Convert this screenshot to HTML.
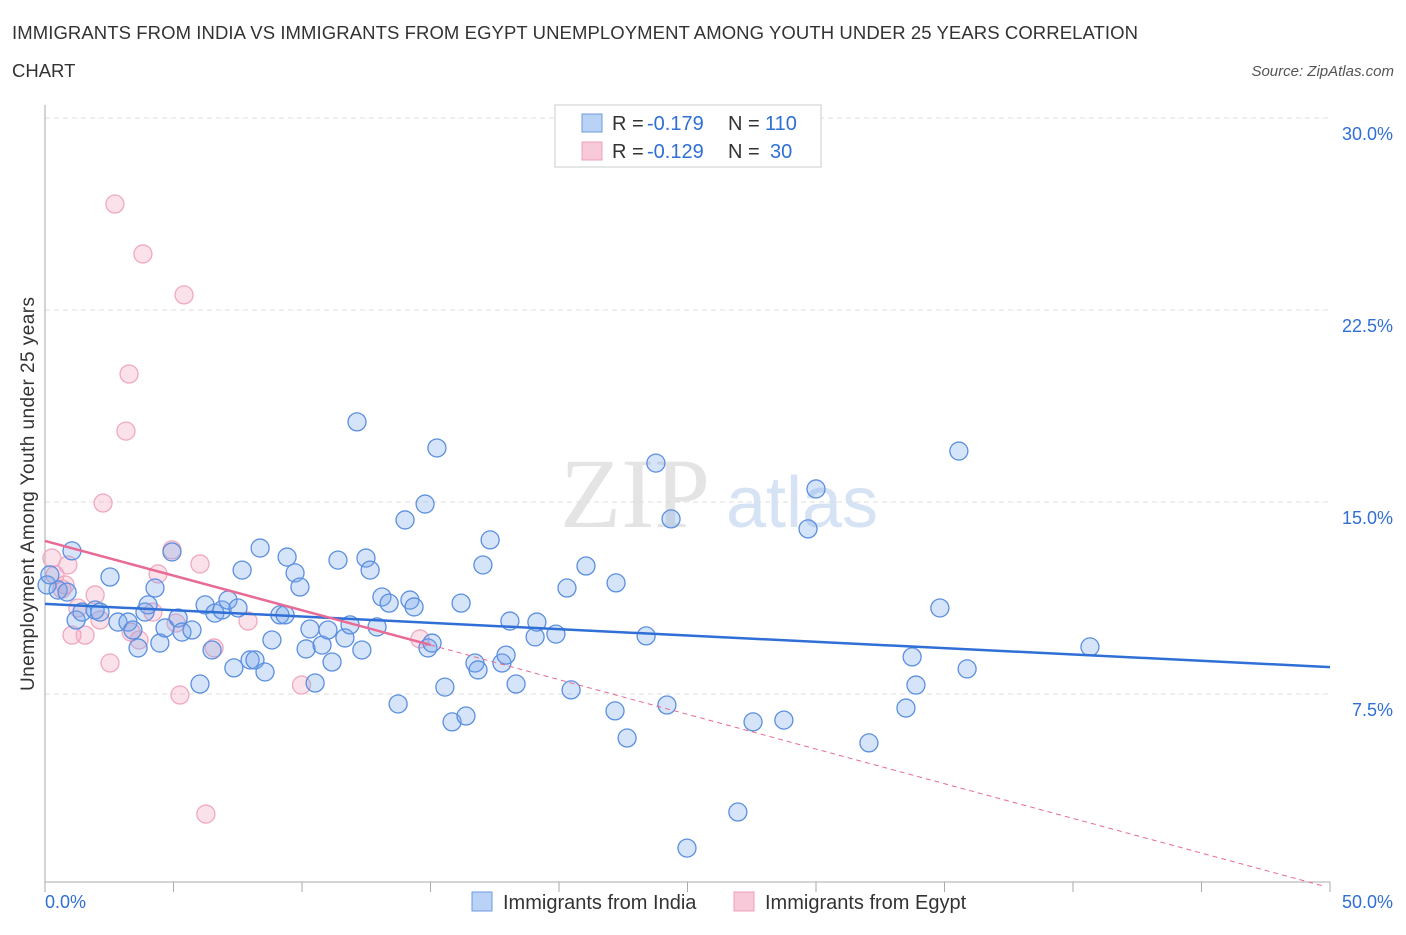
<!DOCTYPE html>
<html><head><meta charset="utf-8"><style>
body{margin:0;background:#fff;width:1406px;height:930px;overflow:hidden;font-family:"Liberation Sans",sans-serif;}
</style></head><body>
<svg id="c" width="1406" height="930" xmlns="http://www.w3.org/2000/svg">
<text x="12" y="39" font-size="18.5" fill="#333" textLength="1126">IMMIGRANTS FROM INDIA VS IMMIGRANTS FROM EGYPT UNEMPLOYMENT AMONG YOUTH UNDER 25 YEARS CORRELATION</text>
<text x="12" y="77" font-size="18.5" fill="#333">CHART</text>
<text x="1394" y="76" font-size="15" fill="#555" font-style="italic" text-anchor="end">Source: ZipAtlas.com</text>
<text x="635" y="527" font-size="100" fill="#e4e4e4" font-family="Liberation Serif,serif" text-anchor="middle">ZIP</text>
<text x="802" y="527" font-size="72" fill="#d6e3f5" text-anchor="middle">atlas</text>
<g id="grid"></g><g id="marks"></g>
<text transform="translate(34,494) rotate(-90)" font-size="19" fill="#333" text-anchor="middle" textLength="394">Unemployment Among Youth under 25 years</text>
<g>
<rect x="555" y="105" width="266" height="62" fill="#fff" stroke="#ccc"/>
<rect x="582" y="114" width="20" height="18" fill="#b9d2f6" stroke="#6d9ae0"/>
<text x="612" y="130" font-size="20" fill="#333">R =</text>
<text x="647" y="130" font-size="20" fill="#2f6fd6">-0.179</text>
<text x="728" y="130" font-size="20" fill="#333">N =</text>
<text x="765" y="130" font-size="20" fill="#2f6fd6">110</text>
<rect x="582" y="142" width="20" height="18" fill="#f8c9d8" stroke="#eea0b8"/>
<text x="612" y="158" font-size="20" fill="#333">R =</text>
<text x="647" y="158" font-size="20" fill="#2f6fd6">-0.129</text>
<text x="728" y="158" font-size="20" fill="#333">N =</text>
<text x="770" y="158" font-size="20" fill="#2f6fd6">30</text>
</g>
<g>
<rect x="472" y="892" width="20" height="19" fill="#b9d2f6" stroke="#6d9ae0"/>
<text x="503" y="909" font-size="20" fill="#333">Immigrants from India</text>
<rect x="734" y="892" width="20" height="19" fill="#f8c9d8" stroke="#eea0b8"/>
<text x="765" y="909" font-size="20" fill="#333">Immigrants from Egypt</text>
</g>
</svg>
<script>
const yTicks=[7.5,15,22.5,30];
const xTickLabels=["0.0%","50.0%"];
const indiaX=[1.05,0.51,0.86,0.08,0.19,1.21,1.44,1.95,2.14,2.53,2.84,3.23,3.42,3.62,3.89,4.01,4.28,4.47,4.67,4.94,5.18,5.33,5.72,6.03,6.23,6.5,6.61,6.89,7.12,7.35,7.51,7.67,7.98,8.17,8.37,8.56,8.83,9.14,9.34,9.42,9.73,9.92,10.16,10.31,10.51,10.78,11.01,11.17,11.4,11.67,11.87,12.14,12.33,12.49,12.65,12.92,13.11,13.39,13.74,14.01,14.2,14.36,14.79,14.9,15.06,15.25,15.56,15.84,16.19,16.38,16.73,16.85,17.04,17.32,17.78,17.94,18.33,18.09,19.07,19.14,19.88,20.31,20.47,21.05,22.18,22.22,22.65,23.39,23.77,24.2,24.36,24.98,26.96,27.55,28.75,29.69,30.0,32.06,33.5,33.74,33.89,34.82,35.56,35.88,40.66];
const indiaY=[13.09,11.56,11.48,11.76,12.15,10.39,10.7,10.78,10.7,12.07,10.31,10.31,10.0,9.3,10.7,10.98,11.64,9.49,10.08,13.05,10.47,9.92,10.0,7.89,10.98,9.22,10.66,10.78,11.17,8.52,10.86,12.34,8.83,8.83,13.2,8.36,9.61,10.59,10.59,12.85,12.23,11.68,9.26,10.04,7.93,9.41,10.0,8.75,12.73,9.69,10.2,18.13,9.22,12.81,12.34,10.12,11.29,11.05,7.11,14.3,11.17,10.9,14.92,9.3,9.49,17.11,7.77,6.41,11.05,6.64,8.71,8.44,12.54,13.52,8.71,9.02,7.89,10.35,9.73,10.31,9.84,11.64,7.66,12.5,6.84,11.84,5.78,9.77,16.52,7.07,14.34,1.48,2.89,6.41,6.48,13.95,15.51,5.59,6.95,8.95,7.85,10.86,16.99,8.48,9.34];
const egyptX=[0.27,0.39,0.78,0.89,0.66,1.05,1.56,1.28,1.95,2.14,2.26,2.53,2.72,3.15,3.27,3.35,3.66,3.81,4.2,4.4,4.94,5.1,5.25,5.41,6.03,6.26,6.58,7.9,9.98,14.59];
const egyptY=[12.81,12.15,11.76,12.54,11.6,9.8,9.8,10.86,11.37,10.39,14.96,8.71,26.64,17.77,20.0,9.92,9.61,24.69,10.7,12.19,13.13,10.27,7.46,23.09,12.58,2.81,9.3,10.35,7.85,9.65];
const blueLine=[11.02,8.55];
const pinkIntercept=13.48, pinkSlope=-0.271;
const X=v=>45+v/50*1285, Y=v=>886-v*25.6;
const NS="http://www.w3.org/2000/svg";
function mk(tag,attrs,parent){const e=document.createElementNS(NS,tag);for(const k in attrs)e.setAttribute(k,attrs[k]);parent.appendChild(e);return e;}
const g=document.getElementById('grid'),m=document.getElementById('marks');
yTicks.forEach(t=>{
 const l=mk('line',{x1:45,x2:1330,y1:Y(t),y2:Y(t),stroke:'#ddd','stroke-dasharray':'5,4'},g);
 
 
 const tx=mk('text',{x:1393,y:Y(t)+22,'font-size':18,fill:'#2f6fd6','text-anchor':'end'},g);
 tx.textContent=t.toFixed(1)+'%';
 
 
});
mk('line',{x1:45,x2:45,y1:105,y2:882,stroke:'#aaa'},g);
mk('line',{x1:45,x2:1330,y1:882,y2:882,stroke:'#aaa'},g);
for(let i=0;i<=10;i++){const t=mk('line',{x1:X(i*5),x2:X(i*5),y1:882,y2:892,stroke:'#aaa'},g);
 
 }
[0,1].forEach(i=>{const t=mk('text',{x:i?1393:45,y:908,'font-size':18,fill:'#2f6fd6','text-anchor':i?'end':'start'},g);t.textContent=xTickLabels[i];
 
 });
egyptX.forEach((x,i)=>{const c=mk('circle',{cx:X(x),cy:Y(egyptY[i]),r:9,fill:'rgba(242,160,186,0.3)',stroke:'#f0a8c0','stroke-width':1.3},m);
 
 });
indiaX.forEach((x,i)=>{const c=mk('circle',{cx:X(x),cy:Y(indiaY[i]),r:9,fill:'rgba(120,165,235,0.3)',stroke:'#5b8fe0','stroke-width':1.3},m);
 
 });
const bl=mk('line',{x1:X(0),y1:Y(blueLine[0]),x2:X(50),y2:Y(blueLine[1]),stroke:'#2f6fd6','stroke-width':2.5},m);


const pe=-pinkIntercept/pinkSlope;
const pd=mk('line',{x1:X(15),y1:Y(pinkIntercept+pinkSlope*15),x2:X(pe),y2:Y(0),stroke:'#e86a96','stroke-width':1,'stroke-dasharray':'5,4'},m);


const pl=mk('line',{x1:X(0),y1:Y(pinkIntercept),x2:X(15),y2:Y(pinkIntercept+pinkSlope*15),stroke:'#e86a96','stroke-width':2.5},m);


</script>
</body></html>
